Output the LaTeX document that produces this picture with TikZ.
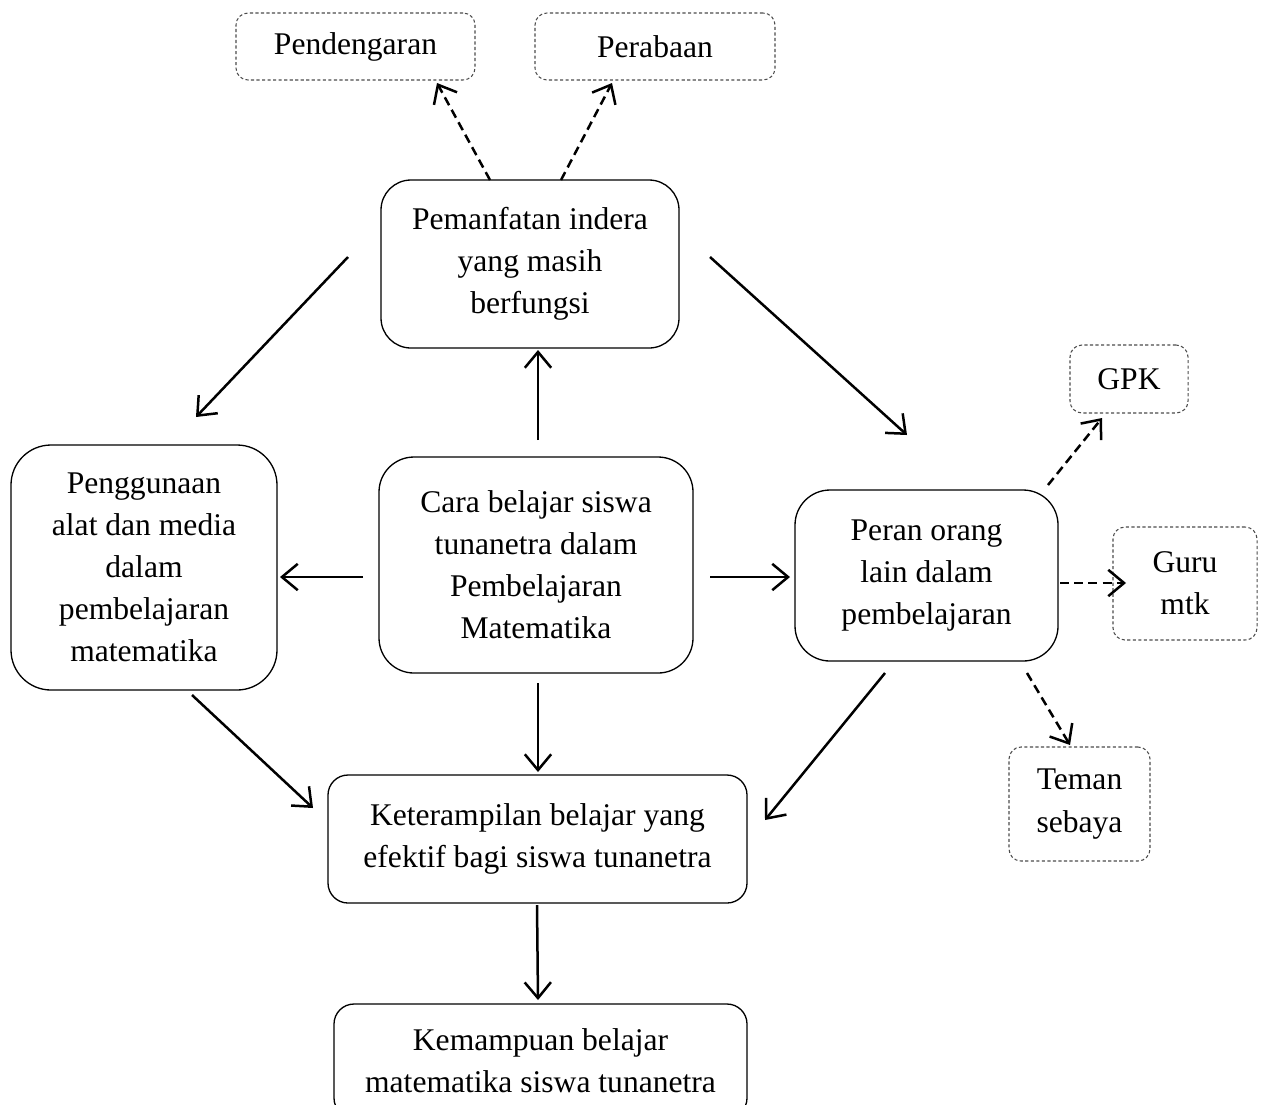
\documentclass[tikz,border=0pt]{standalone}
\usepackage{fontspec}
\setmainfont{Liberation Serif}
\usetikzlibrary{arrows.meta}
\newcommand\px{0.38pt}
\tikzset{
  box/.style={draw, line width=0.5pt, align=center, inner sep=0pt,
    font=\fontsize{12}{16}\selectfont},
  dbox/.style={box, draw=black!70, line width=0.4pt, dash pattern=on 1.2pt off 0.9pt, rounded corners=12*\px},
  arr/.style={line width=0.95pt, -{Straight Barb[length=6pt,width=10pt]}},
  darr/.style={arr, dash pattern=on 3.4pt off 2pt},
}
\begin{document}
\begin{tikzpicture}[x=0.38pt, y=-0.38pt]
\useasboundingbox (0,0) rectangle (1262,1104);
\clip (0,0) rectangle (1262,1104);
\node[dbox, minimum width=239*\px, minimum height=67*\px] (pend) at (355.5,46.5) {Pendengaran};
\node[dbox, minimum width=240*\px, minimum height=67*\px] (perab) at (655,46.5) {Perabaan};
\node[box, rounded corners=30*\px, minimum width=298*\px, minimum height=168*\px] (pem) at (530,264) {Pemanfatan indera\\yang masih\\berfungsi};
\node[box, rounded corners=40*\px, minimum width=266*\px, minimum height=245*\px] (peng) at (144,567.5) {Penggunaan\\alat dan media\\dalam\\pembelajaran\\matematika};
\node[box, rounded corners=35*\px, minimum width=314*\px, minimum height=216*\px] (cara) at (536,565) {Cara belajar siswa\\tunanetra dalam\\Pembelajaran\\Matematika};
\node[box, rounded corners=35*\px, minimum width=263*\px, minimum height=171*\px] (peran) at (926.5,575.5) {Peran orang\\lain dalam\\pembelajaran};
\node[dbox, minimum width=118*\px, minimum height=68*\px] (gpk) at (1129,379) {GPK};
\node[dbox, minimum width=144*\px, minimum height=113*\px] (guru) at (1185,583.5) {Guru\\mtk};
\node[dbox, minimum width=141*\px, minimum height=114*\px] (teman) at (1079.5,804) {Teman\\sebaya};
\node[box, rounded corners=20*\px, minimum width=419*\px, minimum height=128*\px] (ket) at (537.5,839) {Keterampilan belajar yang\\efektif bagi siswa tunanetra};
\node[box, rounded corners=20*\px, minimum width=413*\px, minimum height=114*\px] (kem) at (540.5,1061) {Kemampuan belajar\\matematika siswa tunanetra};

% free connector ends
\coordinate (a1s) at (538,440); \coordinate (a1e) at (538,350);
\coordinate (a2s) at (363,577); \coordinate (a2e) at (280,577);
\coordinate (a3s) at (710,577); \coordinate (a3e) at (790,577);
\coordinate (a4s) at (538,683); \coordinate (a4e) at (538,772);
\coordinate (a5s) at (348,257); \coordinate (a5e) at (196,417);
\coordinate (a6s) at (710,257); \coordinate (a6e) at (907,435);
\coordinate (a7s) at (192,695); \coordinate (a7e) at (313,808);
\coordinate (a8s) at (885,673); \coordinate (a8e) at (765,820);
\coordinate (a9s) at (537,905); \coordinate (a9e) at (538,1000);
\coordinate (d1s) at (490,180); \coordinate (d1e) at (437,83);
\coordinate (d2s) at (561,180); \coordinate (d2e) at (612,83);
\coordinate (d3s) at (1048,485); \coordinate (d3e) at (1102,418);
\coordinate (d4s) at (1060,583); \coordinate (d4e) at (1126,583);
\coordinate (d5s) at (1027,673); \coordinate (d5e) at (1070,745);

\foreach \i in {1,...,9} \draw[arr] (a\i s) -- (a\i e);
\foreach \i in {1,...,5} \draw[darr] (d\i s) -- (d\i e);
\end{tikzpicture}
\end{document}
